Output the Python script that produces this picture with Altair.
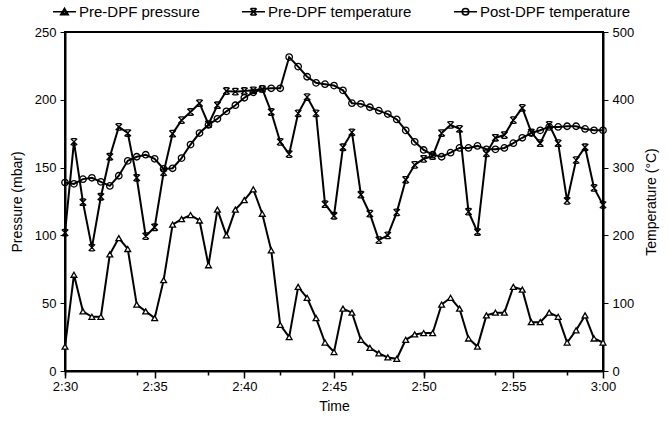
import altair as alt
import pandas as pd

# ---- data ----
minutes = [i * 0.5 for i in range(61)]  # minutes after 2:30, 30-s sampling

pre_dpf_pressure = [18, 71, 44, 40, 40, 86, 98, 90, 49, 44,
                    39, 67, 108, 112, 115, 111, 78, 119, 100, 119,
                    126, 134, 116, 89, 34, 25, 62, 54, 39, 21,
                    14, 46, 43, 23, 17, 13, 10, 9, 23, 27,
                    28, 28, 49, 54, 46, 24, 18, 41, 43, 43,
                    62, 60, 36, 36, 43, 40, 21, 30, 41, 24, 21]

pre_dpf_temp = [204, 338, 249, 182, 257, 316, 360, 351, 285, 199,
                212, 293, 350, 370, 382, 395, 364, 392, 413, 412,
                413, 414, 416, 382, 338, 320, 380, 404, 380, 246,
                229, 330, 352, 260, 232, 193, 200, 234, 282, 304,
                313, 317, 351, 363, 357, 235, 205, 321, 344, 348,
                370, 388, 352, 336, 363, 336, 251, 311, 330, 270, 245]

post_dpf_temp = [278, 276, 283, 285, 279, 273, 288, 310, 316, 319,
                 313, 298, 299, 314, 334, 351, 363, 372, 383, 392,
                 403, 411, 416, 417, 417, 463, 449, 434, 425, 423,
                 421, 414, 395, 394, 389, 384, 379, 371, 355, 338,
                 326, 319, 316, 322, 329, 329, 332, 327, 327, 329,
                 336, 344, 351, 355, 360, 360, 361, 361, 357, 355, 355]

series_names = ["Pre-DPF pressure", "Pre-DPF temperature", "Post-DPF temperature"]

minor_tick_minutes = list(range(0, 31))
label_minutes = [0, 5, 10, 15, 20, 25, 30]
tick_labels = ["2:30", "2:35", "2:40", "2:45", "2:50", "2:55", "3:00"]
pressure_ticks = [0, 50, 100, 150, 200, 250]
temp_ticks = [0, 100, 200, 300, 400, 500]

# ---- tables ----
press_df = pd.DataFrame({"minute": minutes, "value": pre_dpf_pressure,
                         "series": series_names[0]})
temp_df = pd.concat([
    pd.DataFrame({"minute": minutes, "value": pre_dpf_temp, "series": series_names[1]}),
    pd.DataFrame({"minute": minutes, "value": post_dpf_temp, "series": series_names[2]}),
], ignore_index=True)
legend_df = pd.DataFrame({"series": series_names})

label_expr = "''"
for m, lab in reversed(list(zip(label_minutes, tick_labels))):
    label_expr = f"datum.value == {m} ? '{lab}' : ({label_expr})"

FONT = "Liberation Sans"
x_scale = alt.Scale(domain=[0, 30], nice=False, zero=False)

# major x axis (labelled) on the pressure layers
x_major = alt.X(
    "minute:Q", scale=x_scale,
    axis=alt.Axis(orient="bottom", values=label_minutes, labelExpr=label_expr,
                  labelOverlap=False, labelFlush=False, title="Time", grid=False,
                  tickSize=7, tickWidth=1.5, labelPadding=2, titlePadding=6),
)
# minor x ticks on the temperature layers
x_minor = alt.X(
    "minute:Q", scale=x_scale,
    axis=alt.Axis(orient="bottom", values=minor_tick_minutes, labels=False,
                  domain=False, title=None, grid=False, tickSize=4, tickWidth=1.5),
)

line_style = dict(color="black", strokeWidth=2)

p_line = alt.Chart(press_df).mark_line(**line_style).encode(
    x=x_major,
    y=alt.Y("value:Q", scale=alt.Scale(domain=[0, 250], nice=False),
            axis=alt.Axis(orient="left", values=pressure_ticks, title="Pressure (mbar)",
                          grid=False, tickSize=5, labelPadding=4, titlePadding=10)),
)
p_pts = alt.Chart(press_df).mark_point(
    shape="triangle-up", filled=True, fill="white", stroke="black",
    strokeWidth=1.3, size=34, opacity=1,
).encode(x=alt.X("minute:Q"), y=alt.Y("value:Q"))

press_layer = alt.layer(p_line, p_pts)

t_y = alt.Y("value:Q", scale=alt.Scale(domain=[0, 500], nice=False),
            axis=alt.Axis(orient="right", values=temp_ticks, title="Temperature (°C)",
                          titleAngle=270, grid=False, tickSize=5, labelPadding=4,
                          titlePadding=25))

t_line = alt.Chart(temp_df).mark_line(**line_style).encode(
    x=x_minor, y=t_y, detail="series:N",
)

marker_paths = [
    "M-1,-1L1,1M-1,1L1,-1M-0.7,-1H0.7M-0.7,1H0.7",
    "circle",
]
t_pts = alt.Chart(temp_df).mark_point(
    filled=False, stroke="black", strokeWidth=1.3, size=42, opacity=1,
).encode(
    x=alt.X("minute:Q"), y=alt.Y("value:Q"),
    shape=alt.Shape("series:N", scale=alt.Scale(domain=series_names[1:], range=marker_paths),
                    legend=None),
)

legend_paths = [
    "M-2.3,0H2.3M-0.75,0.6L0,-0.7L0.75,0.6ZM-0.4,0.4L0,-0.35L0.4,0.4Z",
    "M-2.3,0H2.3M-0.65,-0.65L0.65,0.65M-0.65,0.65L0.65,-0.65M-0.5,-0.65H0.5M-0.5,0.65H0.5",
    "M-2.3,0H2.3M0.65,0A0.65,0.65 0 1,1 -0.65,0A0.65,0.65 0 1,1 0.65,0Z",
]
legend_layer = alt.Chart(legend_df).mark_point(
    filled=False, stroke="black", strokeWidth=1.6, opacity=0,
).encode(
    shape=alt.Shape(
        "series:N", scale=alt.Scale(domain=series_names, range=legend_paths),
        legend=alt.Legend(
            orient="none", legendX=-8, legendY=-28, direction="horizontal", title=None,
            labelFont=FONT, labelFontSize=15, labelColor="black", symbolSize=100,
            symbolStrokeColor="black", symbolFillColor="transparent",
            symbolStrokeWidth=1.6, symbolOpacity=1,
            labelOffset=7, columnPadding=38, padding=0,
        ),
    ),
)

temp_layer = alt.layer(t_line, t_pts, legend_layer).resolve_scale(shape="independent")

chart = alt.layer(press_layer, temp_layer).resolve_scale(
    y="independent"
).resolve_axis(
    x="independent"
).properties(
    width=538, height=339,
    padding={"left": 65, "top": 32, "right": 66, "bottom": 50},
    autosize=alt.AutoSizeParams(type="none"),
    background="white",
).configure_view(
    stroke="black", strokeWidth=2,
).configure_axis(
    domainColor="black", domainWidth=2, tickColor="black",
    labelFont=FONT, labelFontSize=13, labelColor="black",
    titleFont=FONT, titleFontSize=14, titleFontWeight="normal", titleColor="black",
)

chart.save("out.html", embed_options={"renderer": "svg", "actions": False})
